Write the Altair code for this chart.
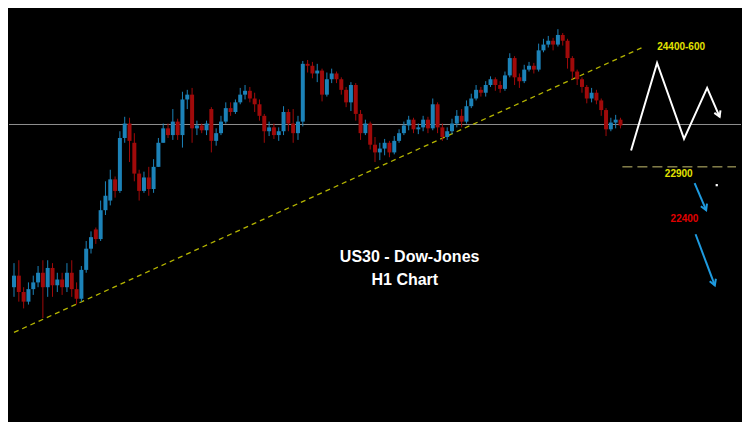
import altair as alt
import pandas as pd

# ---------------- data (H1 candles, US30) ----------------
bars = list(range(127))
opens = [21650, 21770, 21600, 21500, 21630, 21700, 21800, 21650, 21850, 21670,
         21730, 21650, 21800, 21630, 21530, 21830, 22050, 22250, 22150, 22450,
         22550, 22770, 22650, 23200, 23350, 23150, 22830, 22650, 22790, 22670,
         22900, 23150, 23300, 23230, 23370, 23230, 23600, 23650, 23300, 23330,
         23280, 23500, 23170, 23250, 23370, 23510, 23470, 23570, 23650, 23690,
         23610, 23550, 23430, 23270, 23310, 23230, 23270, 23470, 23350, 23250,
         23370, 23970, 23950, 23870, 23900, 23650, 23810, 23870, 23810, 23700,
         23570, 23750, 23450, 23250, 23350, 23130, 23050, 23090, 23150, 23050,
         23170, 23250, 23330, 23390, 23290, 23310, 23390, 23300, 23550, 23310,
         23210, 23270, 23350, 23430, 23370, 23530, 23610, 23700, 23670, 23750,
         23810, 23750, 23710, 23850, 24030, 23830, 23790, 23910, 23950, 23910,
         24110, 24170, 24210, 24170, 24270, 24210, 24030, 23890, 23810, 23730,
         23610, 23670, 23590, 23490, 23290, 23360, 23390]
closes = [21770, 21600, 21500, 21630, 21700, 21800, 21650, 21850, 21670, 21730,
          21650, 21800, 21630, 21530, 21830, 22050, 22170, 22150, 22450, 22600,
          22770, 22650, 23200, 23350, 23170, 22830, 22650, 22790, 22670, 22900,
          23150, 23300, 23230, 23370, 23230, 23600, 23650, 23300, 23330, 23280,
          23350, 23170, 23250, 23370, 23510, 23470, 23570, 23650, 23690, 23610,
          23550, 23430, 23270, 23310, 23230, 23270, 23470, 23350, 23250, 23370,
          23970, 23950, 23870, 23900, 23650, 23810, 23870, 23810, 23700, 23570,
          23750, 23450, 23250, 23350, 23130, 23050, 23090, 23150, 23050, 23170,
          23250, 23330, 23390, 23290, 23310, 23390, 23300, 23550, 23310, 23210,
          23270, 23350, 23430, 23370, 23530, 23610, 23700, 23670, 23750, 23810,
          23750, 23710, 23850, 24030, 23830, 23790, 23910, 23950, 23910, 24110,
          24170, 24210, 24170, 24270, 24210, 24030, 23890, 23810, 23730, 23610,
          23670, 23590, 23490, 23290, 23360, 23390, 23330]
highs = [21900, 21930, 21650, 21700, 21770, 21870, 21930, 21930, 21900, 21800,
         21800, 21900, 21930, 21700, 21870, 22130, 22230, 22270, 22550, 22750,
         22870, 22800, 23270, 23420, 23410, 23250, 22870, 22850, 22900, 22980,
         23200, 23350, 23350, 23500, 23400, 23680, 23700, 23720, 23380, 23350,
         23380, 23520, 23300, 23430, 23570, 23570, 23600, 23720, 23750, 23730,
         23670, 23600, 23450, 23370, 23350, 23310, 23530, 23500, 23500, 23430,
         24000, 24010, 23990, 23970, 23920, 23880, 23920, 23890, 23830, 23730,
         23780, 23770, 23490, 23390, 23370, 23210, 23150, 23190, 23170, 23220,
         23290, 23370, 23430, 23410, 23350, 23430, 23420, 23610, 23570, 23350,
         23310, 23400, 23490, 23500, 23590, 23660, 23750, 23730, 23790, 23840,
         23830, 23790, 23890, 24080, 24050, 23870, 23960, 23990, 23980, 24180,
         24230, 24260, 24240, 24330, 24290, 24230, 24050, 23910, 23830, 23750,
         23720, 23700, 23610, 23510, 23410, 23440, 23410]
lows = [21550, 21500, 21430, 21470, 21570, 21650, 21330, 21550, 21550, 21600,
        21570, 21600, 21550, 21470, 21500, 21800, 22000, 22100, 22130, 22400,
        22500, 22580, 22630, 23150, 22950, 22750, 22550, 22630, 22600, 22630,
        22900, 23150, 23200, 23180, 23180, 23100, 23500, 23150, 23230, 23250,
        23230, 23050, 23120, 23230, 23350, 23430, 23450, 23550, 23600, 23570,
        23470, 23380, 23150, 23220, 23190, 23170, 23230, 23270, 23150, 23180,
        23320, 23880, 23820, 23780, 23580, 23630, 23770, 23770, 23650, 23520,
        23480, 23380, 23180, 23230, 23080, 22950, 22970, 23020, 23000, 23030,
        23150, 23230, 23280, 23250, 23240, 23270, 23250, 23280, 23250, 23170,
        23180, 23240, 23310, 23310, 23350, 23510, 23590, 23630, 23630, 23730,
        23690, 23670, 23690, 23830, 23750, 23720, 23770, 23890, 23870, 23890,
        24090, 24140, 24110, 24150, 24160, 23920, 23810, 23750, 23670, 23560,
        23570, 23550, 23430, 23220, 23270, 23300, 23300]

# annotation values
ref_price = [23340]
trend_bar = [0, 131]
trend_price = [21180, 24150]
level_bar = [126.4, 150]
level_price = [22900, 22900]
zig_bar = [128.2, 133.6, 139.2, 144.0, 146.6]
zig_price = [23070, 23980, 23190, 23720, 23420]
arrow_id = ["a", "a", "b", "b"]
arrow_bar = [141.4, 143.8, 141.6, 145.6]
arrow_price = [22730, 22450, 22200, 21670]
head_bar = [146.6, 143.8, 145.6]
head_price = [23420, 22450, 21670]
head_angle = [337, 337, 339]
head_kind = ["white", "blue", "blue"]
title_lines = ["US30 - Dow-Jones", "H1 Chart"]
title_bar = [82.2, 81.2]
title_price = [21960, 21730]
yel_labels = ["24400-600", "22900"]
yel_bar = [138.6, 138.1]
yel_price = [24150, 22830]
red_labels = ["22400"]
red_bar = [139.3]
red_price = [22360]
dot_bar = [146.0]
dot_price = [22710]

BLUE = "#1c82b8"
RED = "#a00a0a"
ARROW_BLUE = "#1e9be0"
YEL = "#e2e200"

df = pd.DataFrame({"bar": bars, "open": opens, "high": highs, "low": lows, "close": closes})
df["dir"] = ["up" if c >= o else "down" for o, c in zip(opens, closes)]

XS = alt.Scale(domain=[0, 150], nice=False, zero=False)
YS = alt.Scale(domain=[20250, 24550], nice=False, zero=False)


def xq(f):
    return alt.X(f, type="quantitative", scale=XS, axis=None)


def yq(f):
    return alt.Y(f, type="quantitative", scale=YS, axis=None)


col = alt.Color("dir:N", scale=alt.Scale(domain=["up", "down"], range=[BLUE, RED]), legend=None)

hline = alt.Chart(pd.DataFrame({"p": ref_price})).mark_rule(color="#8f8f8f", strokeWidth=1).encode(y=yq("p"))

wicks = alt.Chart(df).mark_rule(strokeWidth=1).encode(x=xq("bar"), y=yq("low"), y2="high", color=col)
bodies = alt.Chart(df).mark_bar(size=4).encode(x=xq("bar"), y=yq("open"), y2="close", color=col)

trend = alt.Chart(pd.DataFrame({"b": trend_bar, "p": trend_price})).mark_line(
    color="#b4b400", strokeWidth=1.3, strokeDash=[5, 4]).encode(x=xq("b"), y=yq("p"))

level = alt.Chart(pd.DataFrame({"b": level_bar, "p": level_price})).mark_line(
    color="#c8c070", strokeWidth=1, strokeDash=[10, 5]).encode(x=xq("b"), y=yq("p"))

zig = alt.Chart(pd.DataFrame({"b": zig_bar, "p": zig_price, "s": list(range(len(zig_bar)))})).mark_line(
    color="white", strokeWidth=2).encode(x=xq("b"), y=yq("p"), order="s:Q")

arrows = alt.Chart(pd.DataFrame({"b": arrow_bar, "p": arrow_price, "g": arrow_id,
                                 "s": list(range(len(arrow_bar)))})).mark_line(
    color=ARROW_BLUE, strokeWidth=2).encode(x=xq("b"), y=yq("p"), detail="g:N", order="s:Q")

heads = alt.Chart(pd.DataFrame({"b": head_bar, "p": head_price, "a": head_angle, "k": head_kind})).mark_point(
    shape="M-0.7,-1.2L0,0L0.7,-1.2", filled=False, strokeWidth=2, size=90, opacity=1).encode(
    x=xq("b"), y=yq("p"), angle=alt.Angle("a:Q", scale=None),
    color=alt.Color("k:N", scale=alt.Scale(domain=["white", "blue"], range=["#ffffff", ARROW_BLUE]), legend=None))

dot = alt.Chart(pd.DataFrame({"b": dot_bar, "p": dot_price})).mark_square(
    color="white", size=5, opacity=1).encode(x=xq("b"), y=yq("p"))

titles = alt.Chart(pd.DataFrame({"t": title_lines, "b": title_bar, "p": title_price})).mark_text(
    font="Liberation Sans", fontWeight="bold", fontSize=16, color="white").encode(
    x=xq("b"), y=yq("p"), text="t:N")

ylab = alt.Chart(pd.DataFrame({"t": yel_labels, "b": yel_bar, "p": yel_price})).mark_text(
    font="Liberation Sans", fontWeight="bold", fontSize=10, color=YEL).encode(
    x=xq("b"), y=yq("p"), text="t:N")

rlab = alt.Chart(pd.DataFrame({"t": red_labels, "b": red_bar, "p": red_price})).mark_text(
    font="Liberation Sans", fontWeight="bold", fontSize=10, color="#e00000").encode(
    x=xq("b"), y=yq("p"), text="t:N")

chart = alt.layer(hline, trend, level, wicks, bodies, zig, arrows, heads, dot, titles, ylab, rlab).properties(
    width=734, height=414, padding=0, background="#000000",
    autosize=alt.AutoSizeParams(type="fit", contains="padding"),
).resolve_scale(color="independent").configure_view(stroke=None)

chart.save("out.html", embed_options={"renderer": "svg", "actions": False})
